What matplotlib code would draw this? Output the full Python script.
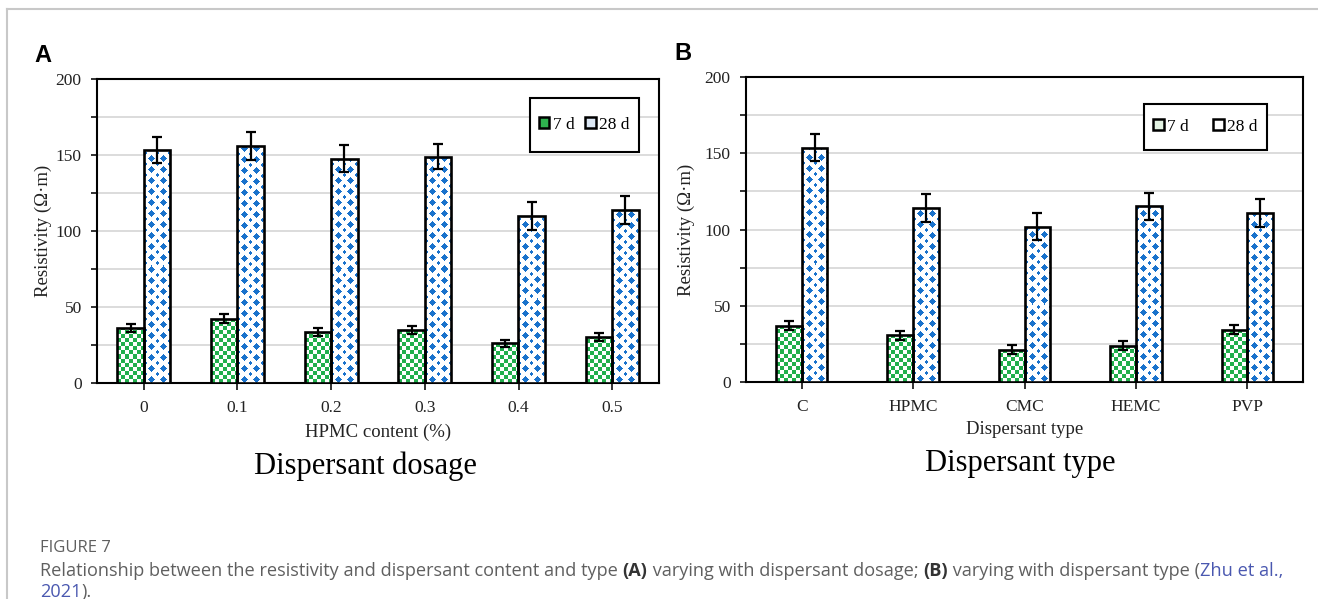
import numpy as np
import matplotlib
matplotlib.use("Agg")
import matplotlib.pyplot as plt
from matplotlib.patches import Patch, Rectangle
from matplotlib.lines import Line2D
from matplotlib.ticker import MultipleLocator
from matplotlib.transforms import IdentityTransform
from matplotlib.font_manager import FontProperties

plt.rcParams['font.family'] = ['Liberation Serif', 'DejaVu Serif']

# panel A: dispersant dosage
dosage_labels = ['0', '0.1', '0.2', '0.3', '0.4', '0.5']
dosage_7d = [36.4, 42.3, 33.6, 34.9, 26.1, 30.0]
dosage_28d = [153.3, 155.9, 147.6, 148.9, 109.9, 113.8]
dosage_7d_err = [2.6, 2.8, 2.6, 2.7, 2.5, 2.6]
dosage_28d_err = [8.7, 9.2, 9.0, 8.3, 9.0, 9.3]

# panel B: dispersant type
type_labels = ['C', 'HPMC', 'CMC', 'HEMC', 'PVP']
type_7d = [37.0, 30.5, 21.3, 23.9, 34.4]
type_28d = [153.6, 114.0, 101.8, 115.1, 110.7]
type_7d_err = [2.9, 2.8, 2.8, 2.8, 2.9]
type_28d_err = [8.8, 9.0, 8.8, 9.0, 9.0]

GREEN = (0.13, 0.69, 0.30)
BLUE = (0.10, 0.45, 0.80)
W, H = 1318, 599


def checker(wpx, hpx, cell=4):
    yy, xx = np.mgrid[0:hpx, 0:wpx]
    img = np.ones((hpx, wpx, 3))
    img[((xx // cell + yy // cell) % 2) == 0] = GREEN
    return img


def diamonds(wpx, hpx, px=12, py=11, r=3.8):
    yy, xx = np.mgrid[0:hpx, 0:wpx].astype(float)
    def dist(ox, oy):
        dx = np.mod(xx - ox, px)
        dx = np.minimum(dx, px - dx)
        dy = np.mod(yy - oy, py)
        dy = np.minimum(dy, py - dy)
        return dx + dy
    img = np.ones((hpx, wpx, 3))
    img[dist(7, 3) <= r] = BLUE
    img[dist(7 + px / 2, 3 + py / 2) <= r - 1.4] = BLUE
    return img


def fill_bar(ax, bar, maker):
    x0, y0 = bar.get_x(), bar.get_y()
    x1, y1 = x0 + bar.get_width(), y0 + bar.get_height()
    p = ax.transData.transform([(x0, y0), (x1, y1)])
    wpx = max(int(round(p[1, 0] - p[0, 0])), 1)
    hpx = max(int(round(p[1, 1] - p[0, 1])), 1)
    im = ax.imshow(maker(wpx, hpx), extent=(x0, x1, y0, y1), origin='lower',
                   aspect='auto', interpolation='nearest', zorder=3)
    im.set_clip_path(bar)


def panel(ax, labels, v7, v28, e7, e28, bw, xlabel, box, faces, colsp):
    n = len(labels)
    x = np.arange(n)
    ax.set_xlim(-0.5, n - 0.5)
    ax.set_ylim(0, 200)
    b7 = ax.bar(x - bw / 2, v7, bw, facecolor='none', edgecolor='black', lw=1.9, zorder=4)
    b28 = ax.bar(x + bw / 2, v28, bw, facecolor='none', edgecolor='black', lw=1.9, zorder=4)
    for b in b7:
        fill_bar(ax, b, checker)
    for b in b28:
        fill_bar(ax, b, diamonds)
    ax.errorbar(x - bw / 2, v7, yerr=e7, fmt='none', ecolor='black', elinewidth=1.6,
                capsize=3.5, capthick=1.6, zorder=5)
    ax.errorbar(x + bw / 2, v28, yerr=e28, fmt='none', ecolor='black', elinewidth=1.6,
                capsize=3.5, capthick=1.6, zorder=5)
    ax.set_xticks(x)
    ax.set_xticklabels(labels)
    ax.yaxis.set_major_locator(MultipleLocator(50))
    ax.yaxis.set_minor_locator(MultipleLocator(25))
    ax.grid(axis='y', which='both', color='#d9d9d9', lw=1.3)
    ax.set_axisbelow(True)
    for s in ax.spines.values():
        s.set_linewidth(1.5)
    ax.tick_params(axis='both', which='both', labelsize=12.5, width=1.3, colors='#222222')
    ax.tick_params(axis='y', which='both', length=4, pad=7)
    ax.tick_params(axis='x', length=5, pad=7)
    ax.set_ylabel('Resistivity (Ω·m)', fontsize=13.5, color='#222222')
    ax.set_xlabel(xlabel, fontsize=13.5, color='#222222')

    ax.add_patch(Rectangle((box[0], box[1]), box[2] - box[0], box[3] - box[1],
                           transform=ax.transAxes, facecolor='white', edgecolor='black',
                           lw=1.5, zorder=6))
    handles = [Patch(facecolor=faces[0], edgecolor='black', lw=1.8),
               Patch(facecolor=faces[1], edgecolor='black', lw=1.8)]
    leg = ax.legend(handles, ['7 d', '28 d'], ncol=2, loc='center', frameon=False,
                    bbox_to_anchor=((box[0] + box[2]) / 2, (box[1] + box[3]) / 2),
                    fontsize=12.5, handlelength=0.6, handleheight=0.6,
                    handletextpad=0.2, columnspacing=colsp)
    leg.set_zorder(7)


fig = plt.figure(figsize=(W / 100, H / 100), dpi=100)

# card border
fig.add_artist(Line2D([7 / W, 1], [1 - 9 / H, 1 - 9 / H], transform=fig.transFigure,
                      color='#c8c8c8', lw=1.5))
fig.add_artist(Line2D([7 / W, 7 / W], [0, 1 - 9 / H], transform=fig.transFigure,
                      color='#c8c8c8', lw=1.5))

axA = fig.add_axes([97 / W, 1 - 383 / H, 562 / W, 304 / H])
axB = fig.add_axes([746 / W, 1 - 382 / H, 557 / W, 305 / H])

panel(axA, dosage_labels, dosage_7d, dosage_28d, dosage_7d_err, dosage_28d_err,
      0.283, 'HPMC content (%)', (0.770, 0.760, 0.964, 0.9375), ['#2fb34f', '#dde8f5'], 0.6)
panel(axB, type_labels, type_7d, type_28d, type_7d_err, type_28d_err,
      0.23, 'Dispersant type', (0.7145, 0.761, 0.935, 0.911), ['#e3f3e3', '#ffffff'], 1.4)

axA.yaxis.set_label_coords(-0.080, 0.5)
axB.yaxis.set_label_coords(-0.092, 0.5)
axA.xaxis.set_label_coords(0.5, -0.135)
axB.xaxis.set_label_coords(0.5, -0.128)

fig.text(43 / W, 1 - 55 / H, 'A', family='Liberation Sans', weight='bold', fontsize=17,
         ha='center', va='center')
fig.text(683 / W, 1 - 54 / H, 'B', family='Liberation Sans', weight='bold', fontsize=17,
         ha='center', va='center')
fig.text(365 / W, 1 - 466 / H, 'Dispersant dosage', fontsize=22, ha='center', va='center')
fig.text(1020 / W, 1 - 463 / H, 'Dispersant type', fontsize=22, ha='center', va='center')

# caption
cap_font = ['Open Sans', 'Noto Sans', 'DejaVu Sans']
cap_size = 13.1
grey = '#5f5f5f'
link = '#4a58b0'
fig.text(40, H - 548, 'FIGURE 7', transform=IdentityTransform(), family=cap_font,
         fontsize=12, color=grey, va='center', ha='left')

renderer = fig.canvas.get_renderer()


def text_width(s, weight):
    prop = FontProperties(family=cap_font, size=cap_size, weight=weight)
    w1, _, _ = renderer.get_text_width_height_descent(s + '|', prop, ismath=False)
    w2, _, _ = renderer.get_text_width_height_descent('|', prop, ismath=False)
    return w1 - w2


def rich_line(y, pieces):
    x = 40
    for s, color, weight in pieces:
        fig.text(x, H - y, s, transform=IdentityTransform(), family=cap_font,
                 fontsize=cap_size, color=color, weight=weight, va='center', ha='left')
        x += text_width(s, weight)


rich_line(571, [
    ('Relationship between the resistivity and dispersant content and type ', grey, 'normal'),
    ('(A)', '#333333', 'bold'),
    (' varying with dispersant dosage; ', grey, 'normal'),
    ('(B)', '#333333', 'bold'),
    (' varying with dispersant type (', grey, 'normal'),
    ('Zhu et al.,', link, 'normal'),
])
rich_line(592, [('2021', link, 'normal'), (').', grey, 'normal')])

fig.savefig('out.png', dpi=100)
